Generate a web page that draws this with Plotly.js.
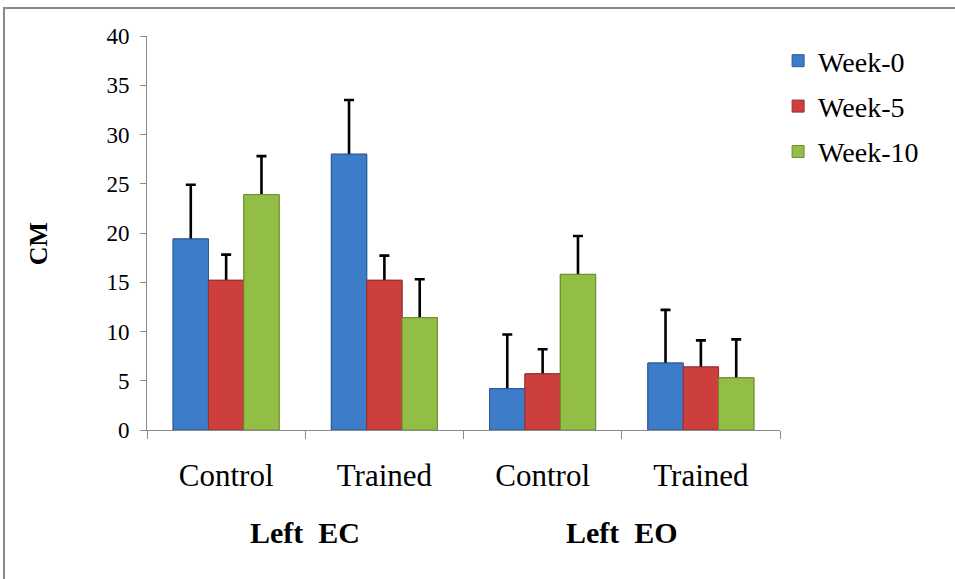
<!DOCTYPE html>
<html>
<head>
<meta charset="utf-8">
<script src="https://cdn.plot.ly/plotly-3.0.1.min.js"></script>
<style>
  html, body { margin: 0; padding: 0; background: #fff; }
  #wrap { position: relative; width: 955px; height: 579px; overflow: hidden; }
  #chart { width: 955px; height: 579px; }
  #frame { position: absolute; left: 3px; top: 7px; width: 960px; height: 600px;
           border-top: 2px solid #8a8a8a; border-left: 2px solid #8a8a8a; pointer-events: none; }
</style>
</head>
<body>
<div id="wrap">
  <div id="chart"></div>
  <div id="frame"></div>
</div>
<script>
// ---- data ----
var groups = ["Left  EC", "Left  EC", "Left  EO", "Left  EO"];
var conditions = ["Control", "Trained", "Control", "Trained"];
var seriesNames = ["Week-0", "Week-5", "Week-10"];
var week0 = [19.4, 28.0, 4.2, 6.8];
var week5 = [15.2, 15.2, 5.7, 6.4];
var week10 = [23.9, 11.4, 15.8, 5.3];
var err0 = [5.5, 5.5, 5.5, 5.4];
var err5 = [2.6, 2.5, 2.5, 2.7];
var err10 = [3.9, 3.9, 3.9, 3.9];
var yTicks = [0, 5, 10, 15, 20, 25, 30, 35, 40];
var yTitle = "CM";

var fills = ["#3D7CC9", "#CC3F3C", "#93BE45"];
var edges = ["#2C5A92", "#943030", "#6C8E2F"];

var xpos = conditions.map(function (_, k) { return k; });
var vals = [week0, week5, week10];
var errs = [err0, err5, err10];
var traces = [];
// first layer: bars carrying the error bars
for (var i = 0; i < 3; i++) {
  traces.push({
    type: "bar", x: xpos, y: vals[i], name: seriesNames[i],
    offsetgroup: "g" + i, legendgroup: "l" + i,
    marker: { color: fills[i], line: { color: edges[i], width: 1 } },
    error_y: { type: "data", array: errs[i], visible: true, color: "#000", thickness: 2.6, width: 5 },
    hoverinfo: "skip"
  });
}
// second layer: same bars on top, hiding the part of the error bars inside the bars
for (var j = 0; j < 3; j++) {
  traces.push({
    type: "bar", x: xpos, y: vals[j], name: seriesNames[j],
    offsetgroup: "g" + j, legendgroup: "l" + j, showlegend: false,
    marker: { color: fills[j], line: { color: edges[j], width: 1 } },
    hoverinfo: "skip"
  });
}

// group labels centred under their categories
var uniqueGroups = [];
groups.forEach(function (g) { if (uniqueGroups.indexOf(g) < 0) uniqueGroups.push(g); });
var serif = "Liberation Serif, Times New Roman, serif";
var annotations = uniqueGroups.map(function (g) {
  var idx = [];
  groups.forEach(function (gg, k) { if (gg === g) idx.push(k); });
  var c = idx.reduce(function (a, b) { return a + b; }, 0) / idx.length;
  return {
    text: "<b>" + g.replace("  ", "&nbsp; ") + "</b>",
    x: c, xref: "x", y: -0.259, yref: "paper", yanchor: "middle", showarrow: false,
    font: { family: serif, size: 30, color: "#000" }
  };
});
annotations.push({
  text: "<b>" + yTitle + "</b>", textangle: -90,
  x: -0.172, xref: "paper", y: 0.472, yref: "paper", showarrow: false,
  xanchor: "center", yanchor: "middle",
  font: { family: serif, size: 26, color: "#000" }
});

var layout = {
  width: 955, height: 579,
  margin: { l: 147, r: 175, t: 36, b: 149 },
  paper_bgcolor: "#fff", plot_bgcolor: "#fff",
  barmode: "group", bargap: 0.33, bargroupgap: 0,
  showlegend: true,
  legend: {
    x: 0.997, xanchor: "left", y: 1.0, yanchor: "top",
    font: { family: serif, size: 28, color: "#000" },
    tracegroupgap: 6, itemwidth: 30
  },
  xaxis: {
    range: [-0.5, conditions.length - 0.5],
    tickvals: xpos, ticktext: conditions,
    showline: true, linecolor: "#8a8a8a", linewidth: 1,
    ticks: "", ticklabelstandoff: 18,
    minor: { tickmode: "linear", tick0: -0.5, dtick: 1, ticks: "outside", ticklen: 8, tickcolor: "#8a8a8a", showgrid: false },
    tickfont: { family: serif, size: 31, color: "#000" },
    showgrid: false, zeroline: false, fixedrange: true
  },
  yaxis: {
    range: [0, 40], tickvals: yTicks,
    showline: true, linecolor: "#8a8a8a", linewidth: 1,
    ticks: "outside", ticklen: 6, tickcolor: "#8a8a8a",
    ticklabelstandoff: 6,
    tickfont: { family: serif, size: 23, color: "#000" },
    showgrid: false, zeroline: false
  },
  annotations: annotations
};

Plotly.newPlot("chart", traces, layout, { displayModeBar: false, staticPlot: true });
</script>
</body>
</html>
